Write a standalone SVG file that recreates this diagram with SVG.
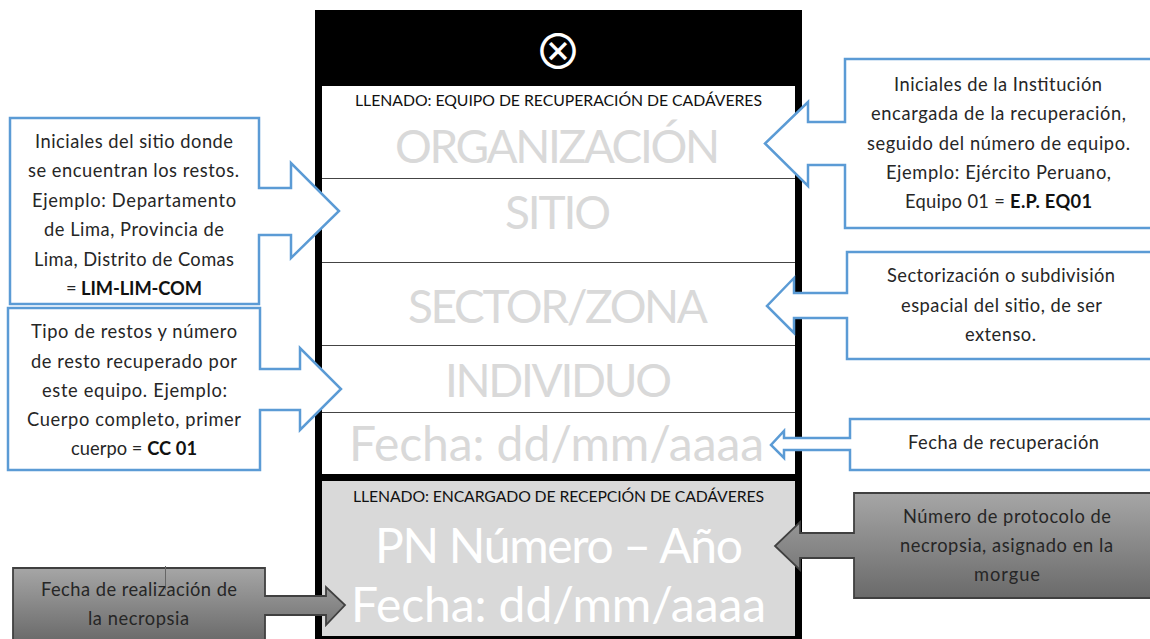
<svg xmlns="http://www.w3.org/2000/svg" width="1150" height="639" viewBox="0 0 1150 639">
<style>
text{font-family:"Lato","Liberation Sans",sans-serif;font-size:18.300px;fill:#262626}
.sm{font-size:15.800px;fill:#111}
.big{font-size:46px;fill:#d9d9d9}
.fe{font-size:48px}
.wh{fill:#fff}
.b{font-weight:700;fill:#111}
.blue{fill:#fff;stroke:#5b9bd5;stroke-width:2.500}
.dark{fill:url(#g);stroke:#404040;stroke-width:1.800}
.row{stroke:#444;stroke-width:1}
</style>
<defs>
<linearGradient id="g" x1="0" y1="0" x2="0" y2="1"><stop offset="0" stop-color="#a6a6a6"/><stop offset="1" stop-color="#6a6a6a"/></linearGradient>
</defs>
<rect width="1150" height="639" fill="#fff"/>
<g id="form">
<rect x="315" y="10" width="487" height="629" fill="#000"/>
<rect x="322" y="86" width="473" height="388" fill="#fff"/>
<rect x="322" y="481" width="473" height="155" fill="#d9d9d9"/>
<line class="row" x1="322" y1="178.500" x2="795" y2="178.500"/>
<line class="row" x1="322" y1="262.500" x2="795" y2="262.500"/>
<line class="row" x1="322" y1="345.500" x2="795" y2="345.500"/>
<line class="row" x1="322" y1="412.500" x2="795" y2="412.500"/>
<text x="558" y="69" text-anchor="middle" style="font-family:'Noto Sans CJK JP',sans-serif;font-size:48px;fill:#fff">⊗</text>
<text class="sm" x="355" y="106" textLength="407">LLENADO: EQUIPO DE RECUPERACIÓN DE CADÁVERES</text>
<text class="big" x="395" y="163" textLength="325">ORGANIZACIÓN</text>
<text class="big" x="505" y="229" textLength="106">SITIO</text>
<text class="big" x="408" y="323" textLength="300">SECTOR/ZONA</text>
<text class="big" x="445" y="397" textLength="227">INDIVIDUO</text>
<text class="big fe" x="349" y="461" textLength="415">Fecha: dd/mm/aaaa</text>
<text class="sm" x="353" y="502" textLength="411">LLENADO: ENCARGADO DE RECEPCIÓN DE CADÁVERES</text>
<text class="big fe wh" x="375" y="563" textLength="368">PN Número – Año</text>
<text class="big fe wh" x="351" y="622" textLength="415">Fecha: dd/mm/aaaa</text>
</g>
<g id="callout-sitio">
<path class="blue" d="M10 118H259V188H291V163L339 211L291 258V235H259V304H10Z"/>
<text x="35" y="148" textLength="198">Iniciales del sitio donde</text>
<text x="28" y="177" textLength="211">se encuentran los restos.</text>
<text x="32" y="207" textLength="204">Ejemplo: Departamento</text>
<text x="44" y="236" textLength="180">de Lima, Provincia de</text>
<text x="34" y="266" textLength="200">Lima, Distrito de Comas</text>
<text x="66" y="295" textLength="136">= <tspan class="b">LIM-LIM-COM</tspan></text>
</g>
<g id="callout-individuo">
<path class="blue" d="M8 308H260V369H300V348L341 389L300 430V410H260V470H8Z"/>
<text x="31" y="338" textLength="206">Tipo de restos y número</text>
<text x="31" y="368" textLength="206">de resto recuperado por</text>
<text x="42" y="397" textLength="185">este equipo. Ejemplo:</text>
<text x="27" y="426" textLength="214">Cuerpo completo, primer</text>
<text x="71" y="455" textLength="126">cuerpo = <tspan class="b">CC 01</tspan></text>
</g>
<g id="callout-organizacion">
<path class="blue" d="M1152 59H845V122H808V102L765 143.500L808 186V165H845V228H1152"/>
<text x="894" y="91" textLength="208">Iniciales de la Institución</text>
<text x="871" y="120" textLength="255">encargada de la recuperación,</text>
<text x="867" y="150" textLength="263">seguido del número de equipo.</text>
<text x="886" y="179" textLength="225">Ejemplo: Ejército Peruano,</text>
<text x="905" y="208" textLength="187">Equipo 01 = <tspan class="b">E.P. EQ01</tspan></text>
</g>
<g id="callout-sector">
<path class="blue" d="M1152 252H847V293H794V278L767 306L794 333V318H847V359H1152"/>
<text x="887" y="282" textLength="228">Sectorización o subdivisión</text>
<text x="901" y="312" textLength="201">espacial del sitio, de ser</text>
<text x="965" y="341" textLength="71">extenso.</text>
</g>
<g id="callout-fecha">
<path class="blue" d="M1152 419H850V438H784V431L771 445L784 458V450H850V470H1152"/>
<text x="908" y="449" textLength="191">Fecha de recuperación</text>
</g>
<g id="callout-protocolo">
<path class="dark" d="M1152 493H854V533H800V522L775 546L800 570V558H854V598H1152Z"/>
<text x="903" y="523" textLength="208">Número de protocolo de</text>
<text x="900" y="552" textLength="213">necropsia, asignado en la</text>
<text x="974" y="581" textLength="66">morgue</text>
</g>
<g id="callout-necropsia">
<path class="dark" d="M13 568H265V596H326V587L345 605L326 625V615H265V641H13Z"/>
<line x1="165.500" y1="566" x2="165.500" y2="590" stroke="#666" stroke-width="1"/>
<text x="41" y="596" textLength="196">Fecha de realización de</text>
<text x="88" y="625" textLength="101">la necropsia</text>
</g>
</svg>
